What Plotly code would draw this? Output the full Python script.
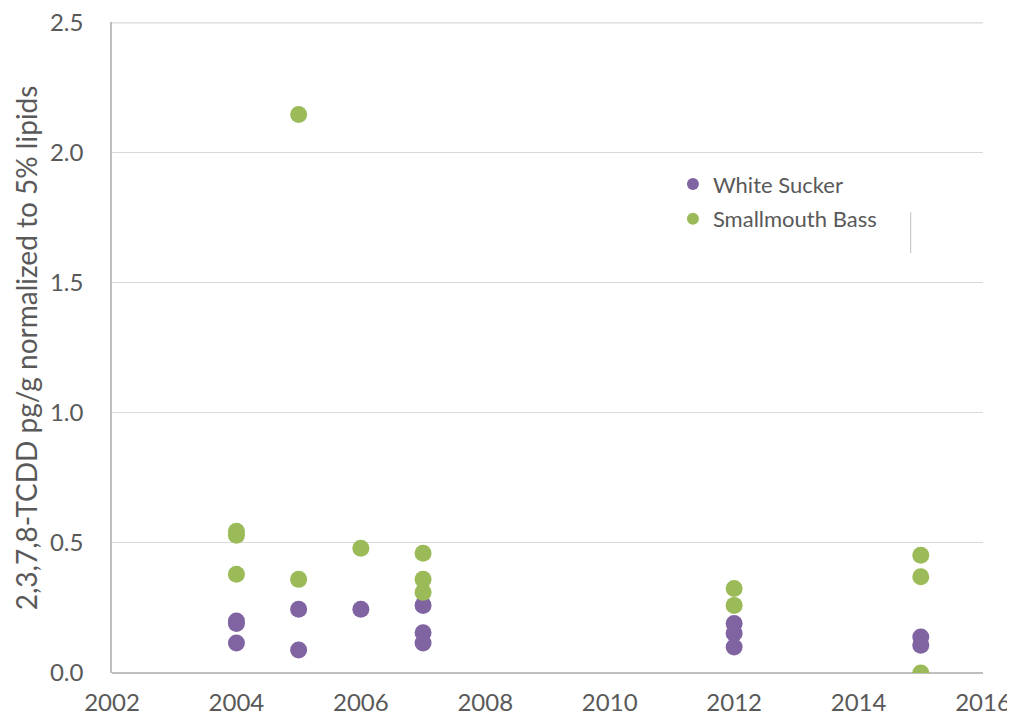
import plotly.graph_objects as go

# White Sucker samples (year, TCDD pg/g normalised to 5% lipids)
ws_year = [2004, 2004, 2004, 2005, 2005, 2006, 2007, 2007, 2007,
           2012, 2012, 2012, 2015, 2015]
ws_tcdd = [0.20, 0.19, 0.115, 0.245, 0.088, 0.245, 0.26, 0.155, 0.115,
           0.19, 0.153, 0.10, 0.138, 0.107]

# Smallmouth Bass samples
sb_year = [2004, 2004, 2004, 2005, 2005, 2006, 2007, 2007, 2007,
           2012, 2012, 2015, 2015, 2015]
sb_tcdd = [0.545, 0.53, 0.38, 2.147, 0.36, 0.48, 0.46, 0.36, 0.31,
           0.325, 0.26, 0.453, 0.37, 0.0]

x_ticks = [2002, 2004, 2006, 2008, 2010, 2012, 2014, 2016]
y_ticks = [0.0, 0.5, 1.0, 1.5, 2.0, 2.5]

purple = '#8064A2'
green = '#9BBB59'
grey_text = '#595959'

fig = go.Figure()

fig.add_trace(go.Scatter(
    x=ws_year, y=ws_tcdd, mode='markers', name='White Sucker',
    legendgroup='ws',
    marker=dict(color=purple, size=17)))

fig.add_trace(go.Scatter(
    x=sb_year, y=sb_tcdd, mode='markers', name='Smallmouth Bass',
    legendgroup='sb',
    marker=dict(color=green, size=17)))

# top gridline (plotly drops the one sitting on the plot edge)
fig.add_shape(type='line', xref='paper', yref='y',
              x0=0, x1=1, y0=y_ticks[-1], y1=y_ticks[-1], layer='below',
              line=dict(color='#D9D9D9', width=1.3))

# stray line next to the legend in the original
fig.add_shape(type='line', xref='paper', yref='paper',
              x0=0.917, x1=0.917, y0=0.645, y1=0.708,
              line=dict(color='#BFBFBF', width=1))

# y axis title as an annotation so the margins stay fixed
fig.add_annotation(
    text='2,3,7,8-TCDD pg/g normalized to 5% lipids',
    xref='paper', yref='paper', x=-0.099, y=0.5,
    xanchor='center', yanchor='middle', textangle=-90, showarrow=False,
    font=dict(size=28, color=grey_text))

fig.update_xaxes(
    range=[2002, 2016], tickvals=x_ticks, showgrid=False, zeroline=False,
    showline=False, ticks='', ticklabelstandoff=13, automargin=False,
    ticklabeloverflow='allow',
    tickfont=dict(size=24, color=grey_text))

fig.update_yaxes(
    range=[0, 2.503], tickvals=y_ticks, tickformat='.1f',
    showgrid=True, gridcolor='#D9D9D9', gridwidth=1.3,
    zeroline=True, zerolinecolor='#BFBFBF', zerolinewidth=1.5,
    showline=True, linecolor='#BFBFBF', linewidth=1.5,
    ticks='', ticklabelstandoff=22, automargin=False,
    ticklabeloverflow='allow',
    tickfont=dict(size=24, color=grey_text))

# page body adds an 8px offset, so the figure is a little smaller than the window
fig.update_layout(
    width=1007, height=713,
    margin=dict(l=104, r=32, t=14, b=48),
    plot_bgcolor='white', paper_bgcolor='white',
    font=dict(family='Lato, Open Sans, sans-serif', color=grey_text),
    showlegend=True,
    legend=dict(x=0.644, y=0.783, xanchor='left', yanchor='top',
                bgcolor='rgba(0,0,0,0)', font=dict(size=22, color=grey_text),
                traceorder='grouped', tracegroupgap=3, itemsizing='constant'))

fig.write_html('out.html')
